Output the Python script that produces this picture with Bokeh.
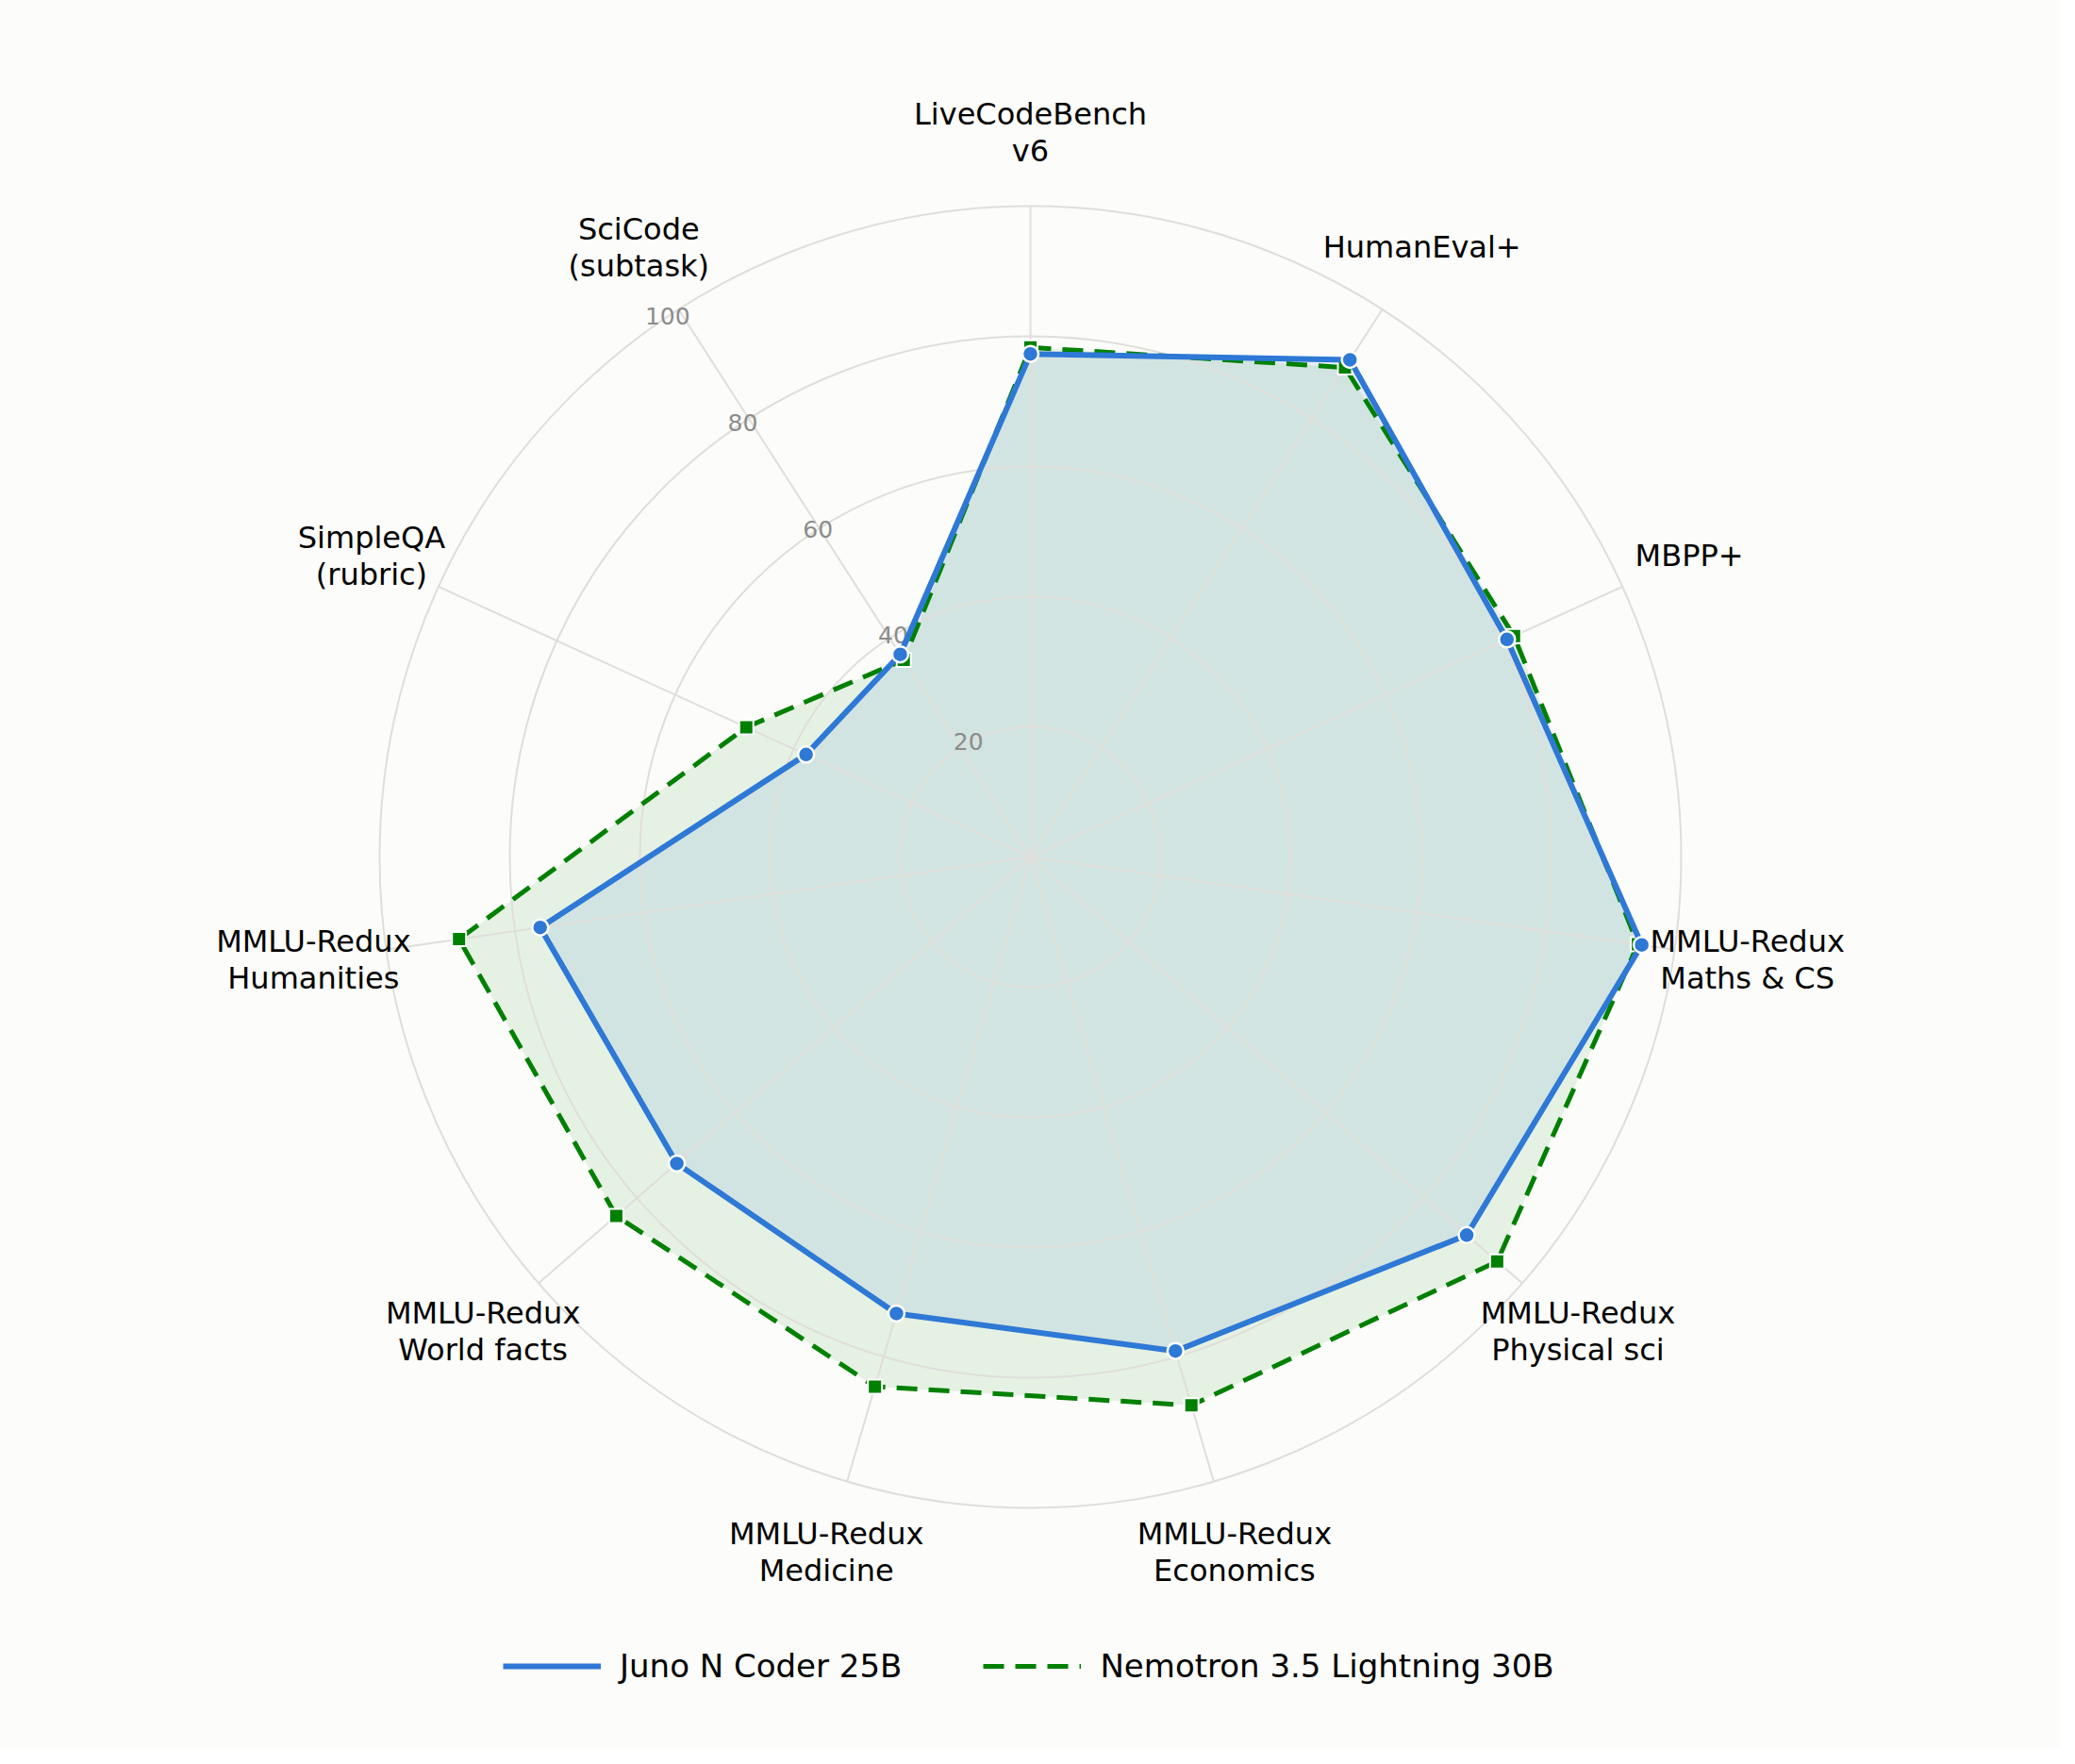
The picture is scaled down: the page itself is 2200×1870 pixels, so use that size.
import numpy as np
from bokeh.plotting import figure
from bokeh.models import Range1d, Legend, LegendItem
from bokeh.core.properties import value
from bokeh.embed import file_html
from bokeh.resources import INLINE

# ---- data ----
categories = ["LiveCodeBench\nv6", "HumanEval+", "MBPP+", "MMLU-Redux\nMaths & CS",
              "MMLU-Redux\nPhysical sci", "MMLU-Redux\nEconomics", "MMLU-Redux\nMedicine",
              "MMLU-Redux\nWorld facts", "MMLU-Redux\nHumanities", "SimpleQA\n(rubric)",
              "SciCode\n(subtask)"]
juno = [77.3, 90.8, 80.5, 94.9, 88.7, 79.1, 73.1, 71.9, 76.1, 37.9, 37.0]
nemotron = [78.3, 89.4, 81.7, 94.3, 94.9, 87.8, 84.8, 84.2, 88.7, 48.0, 36.0]
series_names = ["Juno N Coder 25B", "Nemotron 3.5 Lightning 30B"]
r_ticks = [20, 40, 60, 80, 100]
r_tick_labels = ["20", "40", "60", "80", "100"]
r_max = 100
label_r = 111.3
rlabel_angle_deg = 125.3

# ---- styling ----
BG = "#fcfcfa"
GRID = "#e0deda"
BLUE = "#2e78d6"
GREEN = "#008000"
FONT_NAME = "DejaVu Sans"
FONT = value(FONT_NAME)

W, H = 2184, 1854
scale = 6.9  # px per data unit
cx, cy = 1092, 908  # center in px from left/top

p = figure(width=W, height=H, output_backend="svg", toolbar_location=None,
           x_range=Range1d(-cx / scale, (W - cx) / scale),
           y_range=Range1d(-(H - cy) / scale, cy / scale),
           min_border=0, background_fill_color=BG, border_fill_color=BG)
p.axis.visible = False
p.grid.visible = False
p.outline_line_color = None

n = len(categories)
theta = np.pi / 2 - np.arange(n) * 2 * np.pi / n

def xy(vals):
    v = np.array(vals, dtype=float)
    x = v * np.cos(theta)
    y = v * np.sin(theta)
    return list(np.append(x, x[0])), list(np.append(y, y[0])), list(x), list(y)

bx, by, bpx, bpy = xy(juno)
gx, gy, gpx, gpy = xy(nemotron)

# fills first (grid is drawn over them)
p.patch(gx, gy, fill_color=GREEN, fill_alpha=0.09, line_color=None)
p.patch(bx, by, fill_color=BLUE, fill_alpha=0.10, line_color=None)

# rings
p.circle(x=[0] * len(r_ticks), y=[0] * len(r_ticks), radius=r_ticks,
         fill_color=None, line_color=GRID, line_width=2)
# spokes
p.segment(x0=[0] * n, y0=[0] * n, x1=list(r_max * np.cos(theta)), y1=list(r_max * np.sin(theta)),
          line_color=GRID, line_width=2)

# radial tick labels
ta = np.deg2rad(rlabel_angle_deg)
p.text(x=[t * np.cos(ta) for t in r_ticks], y=[t * np.sin(ta) for t in r_ticks],
       text=r_tick_labels, text_align="center", text_baseline="middle",
       x_offset=14, y_offset=-10,
       text_font=FONT, text_font_size="25px", text_color="#8c8c8c")

gline = p.line(gx, gy, line_color=GREEN, line_width=5, line_dash="22 12")
p.scatter(gpx, gpy, marker="square", size=15, fill_color=GREEN, line_color="white", line_width=2)

bline = p.line(bx, by, line_color=BLUE, line_width=6)
p.scatter(bpx, bpy, marker="circle", size=17, fill_color=BLUE, line_color="white", line_width=2.5)

# category labels
p.text(x=list(label_r * np.cos(theta)), y=list(label_r * np.sin(theta)), text=categories,
       text_align="center", text_baseline="middle", text_font=FONT, text_line_height=1.02,
       text_font_size="32px", text_color="black")

legend = Legend(items=[LegendItem(label=series_names[0], renderers=[bline]),
                       LegendItem(label=series_names[1], renderers=[gline])],
                orientation="horizontal", location=(533, 68),
                glyph_width=104, glyph_height=40, label_standoff=20, spacing=86,
                padding=0, margin=0, border_line_color=None, background_fill_alpha=0,
                label_text_font=FONT_NAME, label_text_font_size="34px", label_text_color="black")
p.add_layout(legend)

open("out.html", "w").write(file_html(p, INLINE))
